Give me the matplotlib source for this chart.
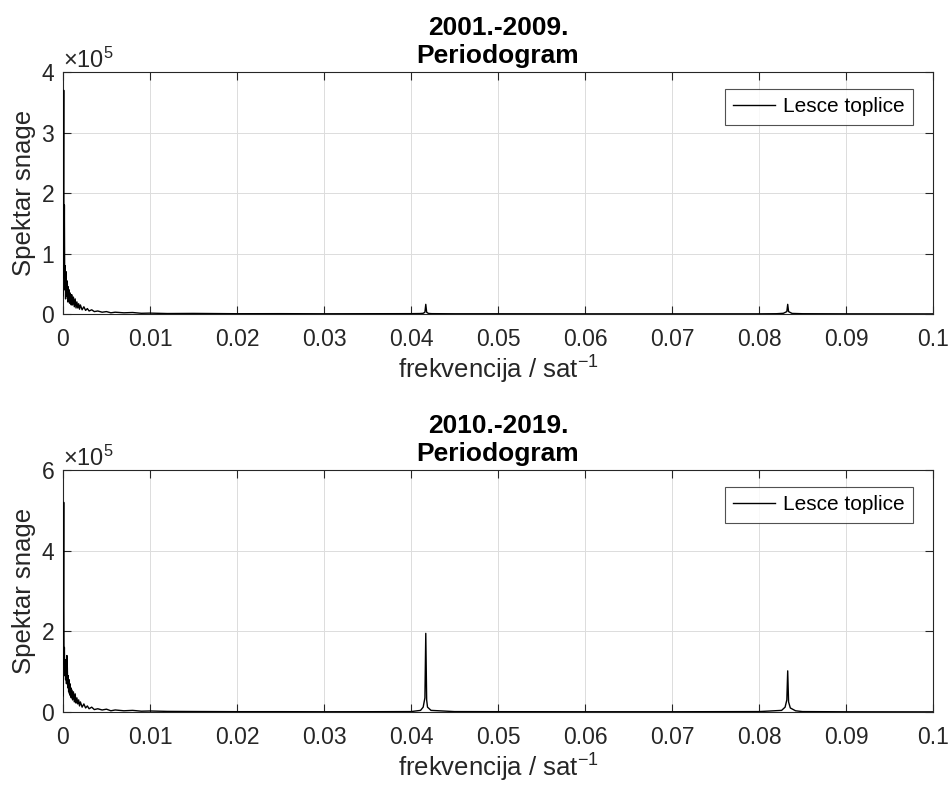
import numpy as np
import matplotlib
matplotlib.use("Agg")
import matplotlib.pyplot as plt
from matplotlib.ticker import ScalarFormatter

plt.rcParams['font.family'] = ['Liberation Sans', 'DejaVu Sans']
plt.rcParams['mathtext.fontset'] = 'custom'
plt.rcParams['mathtext.rm'] = 'Liberation Sans'
plt.rcParams['mathtext.it'] = 'Liberation Sans'

# frekvencije i spektar snage (x 1e5), period 2001.-2009.
frek_2001 = [0, 0.00008, 0.00012, 0.00016, 0.0002, 0.00025, 0.0003, 0.00035, 0.0004, 0.00045,
             0.0005, 0.00055, 0.0006, 0.00065, 0.0007, 0.00075, 0.0008, 0.00085, 0.0009, 0.00095,
             0.001, 0.0011, 0.0012, 0.0013, 0.0014, 0.0015, 0.0016, 0.0017, 0.0018, 0.0019,
             0.002, 0.0022, 0.0024, 0.0026, 0.0028, 0.003, 0.0033, 0.0036, 0.004, 0.0045,
             0.005, 0.0055, 0.006, 0.007, 0.008, 0.009, 0.01, 0.012, 0.015, 0.02,
             0.025, 0.03, 0.035, 0.04, 0.041, 0.0414, 0.0416, 0.0417, 0.0418, 0.042,
             0.0424, 0.045, 0.05, 0.06, 0.07, 0.08, 0.082, 0.0828, 0.0832, 0.0833,
             0.0834, 0.0838, 0.085, 0.09, 0.1]
snaga_2001 = [0.3, 3.7, 0.6, 1.8, 0.4, 0.8, 0.25, 0.7, 0.3, 0.55,
              0.5, 0.2, 0.45, 0.25, 0.4, 0.18, 0.35, 0.2, 0.3, 0.15,
              0.32, 0.15, 0.28, 0.12, 0.25, 0.1, 0.2, 0.1, 0.17, 0.08,
              0.15, 0.07, 0.12, 0.06, 0.09, 0.05, 0.07, 0.04, 0.05, 0.03,
              0.04, 0.02, 0.03, 0.02, 0.025, 0.012, 0.015, 0.008, 0.01, 0.005,
              0.006, 0.004, 0.005, 0.006, 0.008, 0.012, 0.03, 0.16, 0.03, 0.01,
              0.006, 0.004, 0.004, 0.003, 0.003, 0.003, 0.005, 0.012, 0.04, 0.16,
              0.04, 0.01, 0.005, 0.003, 0.002]

# period 2010.-2019.
frek_2010 = [0, 0.00008, 0.00012, 0.00016, 0.0002, 0.00025, 0.0003, 0.00035, 0.0004, 0.00045,
             0.0005, 0.00055, 0.0006, 0.00065, 0.0007, 0.00075, 0.0008, 0.00085, 0.0009, 0.00095,
             0.001, 0.0011, 0.0012, 0.0013, 0.0014, 0.0015, 0.0016, 0.0017, 0.0018, 0.0019,
             0.002, 0.0022, 0.0024, 0.0026, 0.0028, 0.003, 0.0033, 0.0036, 0.004, 0.0045,
             0.005, 0.0055, 0.006, 0.007, 0.008, 0.009, 0.01, 0.012, 0.015, 0.02,
             0.025, 0.03, 0.035, 0.04, 0.0411, 0.0414, 0.0416, 0.0417, 0.0418, 0.0419,
             0.0423, 0.045, 0.05, 0.06, 0.07, 0.08, 0.0826, 0.083, 0.0832, 0.0833,
             0.0834, 0.0836, 0.0842, 0.085, 0.09, 0.1]
snaga_2010 = [0.4, 5.2, 1.2, 1.6, 0.9, 1.3, 0.8, 1.2, 0.7, 1.4,
              1.1, 0.6, 0.9, 0.5, 0.8, 0.45, 0.7, 0.4, 0.6, 0.35,
              0.55, 0.3, 0.5, 0.25, 0.45, 0.22, 0.35, 0.2, 0.3, 0.15,
              0.25, 0.12, 0.2, 0.1, 0.15, 0.08, 0.12, 0.06, 0.08, 0.05,
              0.07, 0.03, 0.05, 0.03, 0.04, 0.02, 0.025, 0.015, 0.012, 0.008,
              0.008, 0.006, 0.007, 0.01, 0.04, 0.12, 0.35, 1.95, 0.3, 0.12,
              0.04, 0.01, 0.008, 0.006, 0.006, 0.01, 0.04, 0.12, 0.3, 1.02,
              0.25, 0.1, 0.03, 0.01, 0.005, 0.003]

x_ticks = [0, 0.01, 0.02, 0.03, 0.04, 0.05, 0.06, 0.07, 0.08, 0.09, 0.1]
x_tick_labels = ['0', '0.01', '0.02', '0.03', '0.04', '0.05', '0.06', '0.07', '0.08', '0.09', '0.1']

paneli = [
    ("2001.-2009.\nPeriodogram", frek_2001, snaga_2001, 4e5, [0, 1e5, 2e5, 3e5, 4e5]),
    ("2010.-2019.\nPeriodogram", frek_2010, snaga_2010, 6e5, [0, 2e5, 4e5, 6e5]),
]
polozaji = [[0.0663, 0.602, 0.9158, 0.3067], [0.0663, 0.0976, 0.9158, 0.3067]]

siva = '#262626'
fig = plt.figure(figsize=(9.5, 7.89), dpi=100)

for (naslov, frek, snaga, ymax, yticks), poz in zip(paneli, polozaji):
    ax = fig.add_axes(poz)
    ax.plot(frek, np.array(snaga) * 1e5, color='black', lw=1.0, label='Lesce toplice', zorder=3)
    ax.set_xlim(0, 0.1)
    ax.set_ylim(0, ymax)
    ax.set_xticks(x_ticks)
    ax.set_xticklabels(x_tick_labels)
    ax.set_yticks(yticks)
    fmt = ScalarFormatter(useMathText=True)
    fmt.set_powerlimits((0, 0))
    ax.yaxis.set_major_formatter(fmt)
    ax.yaxis.get_offset_text().set_fontsize(17)
    ax.yaxis.get_offset_text().set_color(siva)
    ax.grid(True, color='#dcdcdc', lw=0.7)
    ax.set_axisbelow(True)
    ax.tick_params(direction='in', top=True, right=True, length=6, width=0.8,
                   labelsize=16.5, colors=siva)
    ax.tick_params(axis='x', pad=10)
    ax.tick_params(axis='y', pad=6)
    for s in ax.spines.values():
        s.set_color(siva)
        s.set_linewidth(0.8)
    ax.set_title(naslov, fontsize=19, fontweight='bold', color='black', pad=6.5, linespacing=1.2)
    ax.set_xlabel('frekvencija / sat$^{-1}$', fontsize=18.5, color=siva, labelpad=2)
    ax.set_ylabel('Spektar snage', fontsize=18.5, color=siva, labelpad=3)
    leg = ax.legend(loc='upper right', bbox_to_anchor=(0.977, 0.93), fontsize=15,
                    handlelength=2.0, frameon=True, fancybox=False, borderpad=0.4,
                    handletextpad=0.4, borderaxespad=0)
    leg.get_frame().set_edgecolor(siva)
    leg.get_frame().set_linewidth(0.8)

fig.savefig('out.png', dpi=100)
